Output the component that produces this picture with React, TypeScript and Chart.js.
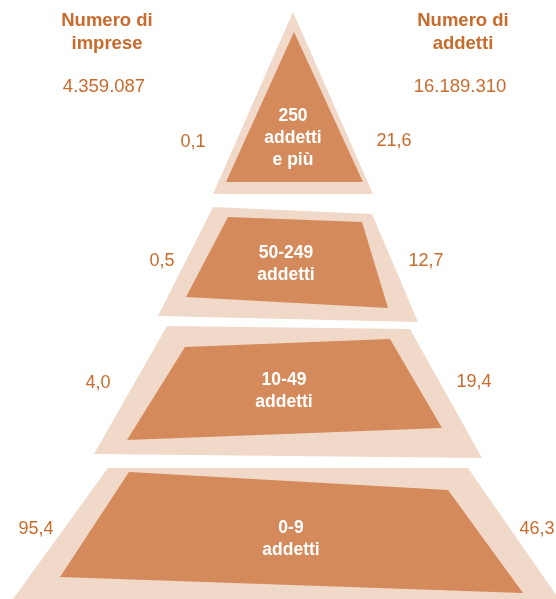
import { useEffect, useRef } from 'react';
import { Chart, registerables } from 'chart.js';

Chart.register(...registerables);

// Size classes, top of the pyramid first
const classLabels: string[][] = [
  ['250', 'addetti', 'e più'],
  ['50-249', 'addetti'],
  ['10-49', 'addetti'],
  ['0-9', 'addetti'],
];
// Share of firms (%) per class
const impresePct = [0.1, 0.5, 4.0, 95.4];
// Share of employees (%) per class
const addettiPct = [21.6, 12.7, 19.4, 46.3];
const totalImprese = 4359087;
const totalAddetti = 16189310;
const headerImprese = ['Numero di', 'imprese'];
const headerAddetti = ['Numero di', 'addetti'];

// Drawing frame (data units of both axes)
const FRAME_W = 556;
const FRAME_H = 599;

type Pt = [number, number];

// Pyramid layer outlines (outer band) and inner panels, in frame units
const outerShapes: Pt[][] = [
  [[293, 12], [373, 194], [213, 194]],
  [[213, 207], [372, 214], [418, 322], [158, 316]],
  [[167, 326], [410, 329], [482, 458], [94, 454]],
  [[108, 468], [468, 468], [559, 599], [13, 599]],
];
const innerShapes: Pt[][] = [
  [[294, 32], [363, 182], [226, 182]],
  [[228, 217], [362, 222], [388, 308], [186, 297]],
  [[185, 347], [390, 339], [442, 428], [127, 440]],
  [[129, 472], [448, 490], [523, 593], [60, 577]],
];

// Text anchors (frame units)
const classLabelPos: { x: number; y: number[] }[] = [
  { x: 293, y: [116, 138, 160] },
  { x: 286, y: [253, 275] },
  { x: 284, y: [380, 402] },
  { x: 291, y: [528, 550] },
];
const impresePos: Pt[] = [[193, 142], [162, 261], [98, 383], [36, 529]];
const addettiPos: Pt[] = [[394, 141], [426, 261], [474, 382], [537, 529]];
const headerImpresePos = { x: 107, y: [21, 44], total: 87 };
const headerAddettiPos = { x: 463, y: [21, 44], total: 87 };

const ORANGE = '#C96B2C';
const OUTER_FILL = '#F0D9C8';
const INNER_FILL = '#D48A5A';
const FONT = '"Liberation Sans", Arial, Helvetica, sans-serif';

const fmtPct = (v: number) => v.toFixed(1).replace('.', ',');
const fmtInt = (n: number) => String(n).replace(/\B(?=(\d{3})+(?!\d))/g, '.');

const closed = (pts: Pt[]) => [...pts, pts[0]].map(([x, y]) => ({ x, y }));

const labelsPlugin = {
  id: 'pyramidLabels',
  afterDatasetsDraw(chart: Chart) {
    const { ctx } = chart;
    const sx = chart.scales.x;
    const sy = chart.scales.y;
    const px = (v: number) => sx.getPixelForValue(v);
    const py = (v: number) => sy.getPixelForValue(v);
    ctx.save();
    ctx.textAlign = 'center';
    ctx.textBaseline = 'middle';

    // Column headers and totals
    ctx.fillStyle = ORANGE;
    ctx.font = `bold 18.5px ${FONT}`;
    headerImprese.forEach((t, i) => ctx.fillText(t, px(headerImpresePos.x), py(headerImpresePos.y[i])));
    headerAddetti.forEach((t, i) => ctx.fillText(t, px(headerAddettiPos.x), py(headerAddettiPos.y[i])));
    ctx.font = `18.5px ${FONT}`;
    ctx.fillText(fmtInt(totalImprese), px(headerImpresePos.x - 3), py(headerImpresePos.total));
    ctx.fillText(fmtInt(totalAddetti), px(headerAddettiPos.x - 3), py(headerAddettiPos.total));

    // Side percentages
    ctx.font = `18px ${FONT}`;
    impresePct.forEach((v, i) => ctx.fillText(fmtPct(v), px(impresePos[i][0]), py(impresePos[i][1])));
    addettiPct.forEach((v, i) => ctx.fillText(fmtPct(v), px(addettiPos[i][0]), py(addettiPos[i][1])));

    // Class names inside the layers
    ctx.fillStyle = '#FFFFFF';
    ctx.font = `bold 17.5px ${FONT}`;
    classLabels.forEach((lines, i) => {
      lines.forEach((t, j) => ctx.fillText(t, px(classLabelPos[i].x), py(classLabelPos[i].y[j])));
    });
    ctx.restore();
  },
};

export default function App() {
  const canvasRef = useRef<HTMLCanvasElement | null>(null);

  useEffect(() => {
    const canvas = canvasRef.current;
    if (!canvas) return;

    const layer = (pts: Pt[], color: string, order: number) => ({
      data: closed(pts),
      showLine: true,
      fill: 'shape' as const,
      backgroundColor: color,
      borderColor: color,
      borderWidth: 0,
      pointRadius: 0,
      pointHoverRadius: 0,
      tension: 0,
      order,
    });

    const chart = new Chart(canvas, {
      type: 'scatter',
      data: {
        datasets: [
          ...innerShapes.map((p) => layer(p, INNER_FILL, 0)),
          ...outerShapes.map((p) => layer(p, OUTER_FILL, 1)),
        ],
      },
      options: {
        responsive: false,
        animation: false,
        events: [],
        layout: { padding: 0 },
        scales: {
          x: { type: 'linear', min: 0, max: FRAME_W, display: false },
          y: { type: 'linear', min: 0, max: FRAME_H, reverse: true, display: false },
        },
        plugins: {
          legend: { display: false },
          tooltip: { enabled: false },
        },
      },
      plugins: [labelsPlugin],
    });

    return () => chart.destroy();
  }, []);

  return (
    <div style={{ position: 'fixed', left: 0, top: 0, width: FRAME_W, height: FRAME_H, background: '#FFFFFF' }}>
      <canvas ref={canvasRef} width={FRAME_W} height={FRAME_H} style={{ display: 'block' }} />
    </div>
  );
}
